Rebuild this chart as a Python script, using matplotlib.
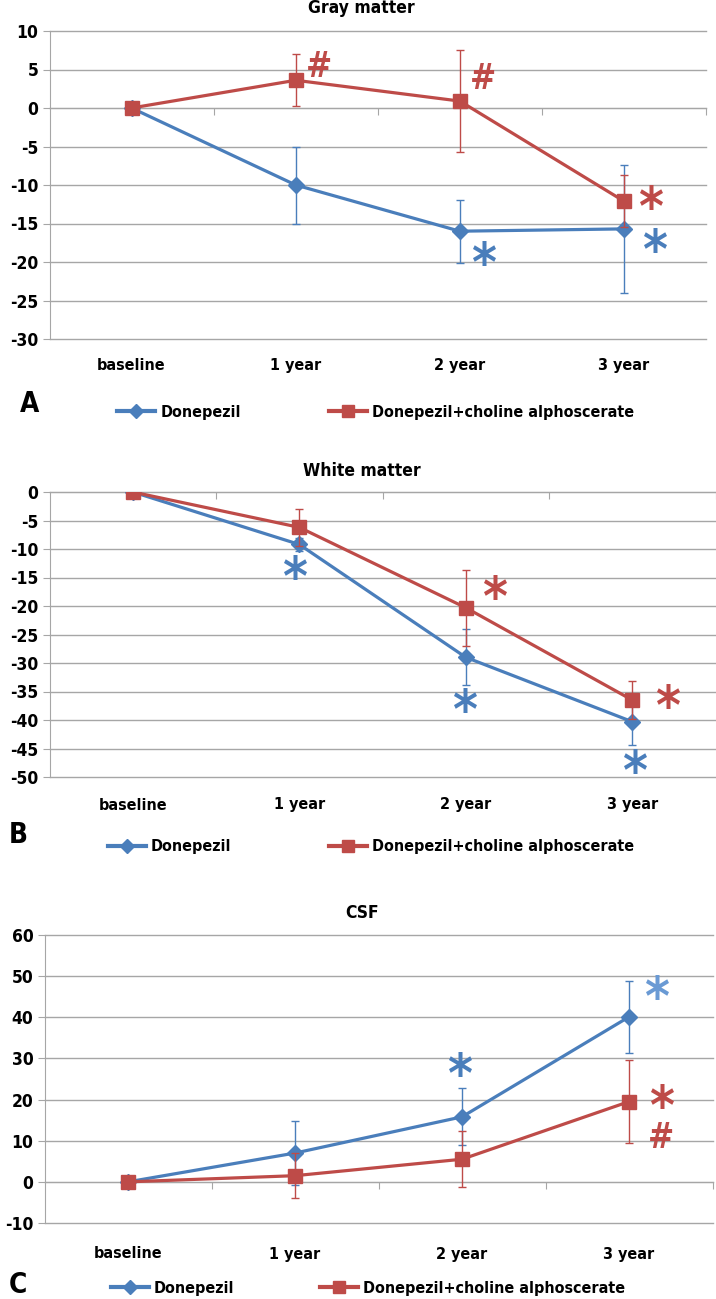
import matplotlib
matplotlib.use("Agg")
import matplotlib.pyplot as plt
from matplotlib.lines import Line2D
from matplotlib.transforms import blended_transform_factory

#
# Data (percent change from baseline)
#
categories = ['baseline', '1 year', '2 year', '3 year']
series_names = ['Donepezil', 'Donepezil+choline alphoscerate']

gray_donepezil = [0, -10.0, -16.0, -15.7]
gray_donepezil_err = [0, 5.0, 4.1, 8.3]
gray_combo = [0, 3.6, 0.9, -12.1]
gray_combo_err = [0, 3.4, 6.6, 3.4]

white_donepezil = [0, -9.2, -29.0, -40.3]
white_donepezil_err = [0, 1.1, 4.9, 4.0]
white_combo = [0, -6.2, -20.3, -36.5]
white_combo_err = [0, 3.3, 6.7, 3.4]

csf_donepezil = [0, 7.0, 15.8, 40.1]
csf_donepezil_err = [0, 7.7, 6.9, 8.7]
csf_combo = [0, 1.5, 5.5, 19.5]
csf_combo_err = [0, 5.5, 6.8, 10.0]

#
# Styles
#
W, H = 716, 1299
blue = '#4A7EBB'
light_blue = '#6A9AD4'
red = '#BE4B48'
grid_col = '#A6A6A6'
plt.rcParams['font.family'] = ['DejaVu Sans']
plt.rcParams['font.stretch'] = 'condensed'
plt.rcParams['axes.unicode_minus'] = False

# significance marks: (symbol, colour, category position, value)
gray_marks = [('#', red, 1.14, 5.6), ('#', red, 2.14, 4.1), ('*', red, 3.17, -12.0),
              ('*', blue, 2.15, -19.3), ('*', blue, 3.19, -17.6)]
white_marks = [('*', blue, 0.98, -13.7), ('*', red, 2.18, -17.2), ('*', blue, 2.0, -37.0),
               ('*', red, 3.22, -36.3), ('*', blue, 3.02, -47.8)]
csf_marks = [('*', blue, 1.99, 27.8), ('*', light_blue, 3.17, 46.6),
             ('*', red, 3.20, 20.2), ('#', red, 3.19, 11.3)]

# panel layout in pixels
panels = [
    dict(title='Gray matter', letter='A', box=(49.5, 706, 31, 339), ylim=(-30, 10), step=5,
         title_y=8, cat_y=365, leg_y=412, letter_x=20, letter_y=404,
         d=(gray_donepezil, gray_donepezil_err), c=(gray_combo, gray_combo_err), marks=gray_marks,
         leg_x=(117, 329)),
    dict(title='White matter', letter='B', box=(49.5, 715.5, 492, 777), ylim=(-50, 0), step=5,
         title_y=471, cat_y=805, leg_y=847, letter_x=9, letter_y=835,
         d=(white_donepezil, white_donepezil_err), c=(white_combo, white_combo_err), marks=white_marks,
         leg_x=(108, 329)),
    dict(title='CSF', letter='C', box=(44.5, 712.5, 935, 1223), ylim=(-10, 60), step=10,
         title_y=913, cat_y=1254, leg_y=1288, letter_x=9, letter_y=1285,
         d=(csf_donepezil, csf_donepezil_err), c=(csf_combo, csf_combo_err), marks=csf_marks,
         leg_x=(111, 320)),
]

fig = plt.figure(figsize=(W / 100, H / 100), dpi=100)

for p in panels:
    l, r, t, b = p['box']
    ax = fig.add_axes([l / W, 1 - b / H, (r - l) / W, (b - t) / H])
    x = list(range(len(categories)))

    # Donepezil
    y, e = p['d']
    ax.errorbar(x, y, yerr=e, color=blue, lw=2.3, marker='D', ms=8, mfc=blue, mec=blue,
                ecolor=blue, elinewidth=1, capsize=3, capthick=1, zorder=3)
    # Donepezil + choline alphoscerate
    y, e = p['c']
    ax.errorbar(x, y, yerr=e, color=red, lw=2.3, marker='s', ms=10, mfc=red, mec=red,
                ecolor=red, elinewidth=1, capsize=3, capthick=1, zorder=4)

    ax.set_xlim(-0.5, len(categories) - 0.5)
    ax.set_ylim(*p['ylim'])
    lo, hi = p['ylim']
    ax.set_yticks(range(lo, hi + 1, p['step']))
    ax.yaxis.grid(True, color=grid_col, lw=1, clip_on=False)
    ax.set_axisbelow(True)
    ax.tick_params(axis='y', length=5, color=grid_col, labelsize=12.5, pad=3)
    for lab in ax.get_yticklabels():
        lab.set_fontweight('bold')

    for s in ['top', 'right']:
        ax.spines[s].set_visible(False)
    ax.spines['left'].set_color(grid_col)
    ax.spines['bottom'].set_color(grid_col)
    ax.spines['bottom'].set_position(('data', 0))
    ax.set_xticks([0.5, 1.5, 2.5, 3.5])
    ax.tick_params(axis='x', length=5, color=grid_col, labelbottom=False)

    # category labels below the plot area
    tr = blended_transform_factory(ax.transData, fig.transFigure)
    for i, cat in enumerate(categories):
        ax.text(i, 1 - p['cat_y'] / H, cat, transform=tr, ha='center', va='center',
                fontsize=11.5, fontweight='bold')

    # significance marks
    for sym, col, mx, my in p['marks']:
        if sym == '*':
            fs, off = 38, -0.47
        else:
            fs, off = 25, -0.36
        ax.annotate(sym, (mx, my), xytext=(0, off * fs), textcoords='offset points',
                    ha='center', va='baseline', fontsize=fs, color=col, fontweight='bold',
                    annotation_clip=False, zorder=5)

    fig.text(0.505, 1 - p['title_y'] / H, p['title'], ha='center', va='center',
             fontsize=12.5, fontweight='bold')
    fig.text(p['letter_x'] / W, 1 - p['letter_y'] / H, p['letter'], ha='left', va='center',
             fontsize=20, fontweight='bold')

    # legend, one entry at a time so both sit where they are in the original
    handles = [Line2D([], [], color=blue, lw=3, marker='D', ms=7),
               Line2D([], [], color=red, lw=3, marker='s', ms=9)]
    for h, name, lx in zip(handles, series_names, p['leg_x']):
        fig.legend(handles=[h], labels=[name], loc='center left',
                   bbox_to_anchor=(lx / W, 1 - p['leg_y'] / H), frameon=False,
                   borderpad=0, borderaxespad=0, handlelength=2.4, handletextpad=0.3,
                   prop={'size': 11.5, 'weight': 'bold', 'stretch': 'condensed'})

fig.savefig('out.png', dpi=100)
